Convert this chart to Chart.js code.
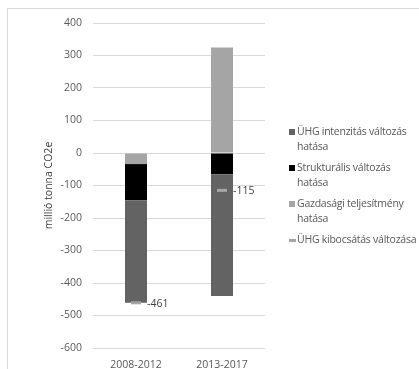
<!DOCTYPE html>
<html>
<head>
<meta charset="utf-8">
<script src="https://cdn.jsdelivr.net/npm/chart.js@4/dist/chart.umd.min.js"></script>
<style>
  html, body { margin: 0; padding: 0; background: #fff; }
  #wrap { position: relative; width: 419px; height: 369px; overflow: hidden; }
  #c { position: absolute; left: 0; top: 0; }
  #legend { position: absolute; left: 289px; top: 124px; font-family: "Open Sans", sans-serif; font-size: 10.5px; letter-spacing: -0.25px; color: #595959; line-height: 14.5px; white-space: nowrap; }
  .item { position: relative; padding-left: 8px; margin-bottom: 7px; }
  .mk { position: absolute; left: 0; top: 5px; width: 6px; height: 6px; }
  .mk.line { top: 7px; height: 2.5px; width: 7px; }
</style>
</head>
<body>
<div id="wrap">
  <canvas id="c" width="419" height="369"></canvas>
  <div id="legend"></div>
</div>
<script>
// Periods on the x axis
const categories = ['2008-2012', '2013-2017'];

// Decomposition of the change in GHG emissions (million tonnes CO2e)
const economicEffect   = [-34, 325];    // Gazdasági teljesítmény hatása
const structuralEffect = [-111, -65];   // Strukturális változás hatása
const intensityEffect  = [-316, -375];  // ÜHG intenzitás változás hatása
const totalChange      = [-461, -115];  // ÜHG kibocsátás változása

// Y axis range
const yMin = -600, yMax = 400, yStep = 100;

const labelFont = { family: '"Open Sans", sans-serif', size: 10.5 };
const textColor = '#595959';
const axisTitle = 'millió tonna CO2e';

// Frame around the figure, axis title and value labels next to the total markers
const decor = {
  id: 'decor',
  beforeDraw(chart) {
    const ctx = chart.ctx;
    ctx.save();
    ctx.strokeStyle = '#d9d9d9';
    ctx.lineWidth = 1;
    ctx.strokeRect(7.5, 8.5, 600, 600);
    ctx.restore();
  },
  afterDraw(chart) {
    const ctx = chart.ctx;
    const y = chart.scales.y;
    ctx.save();
    ctx.font = '10.5px "Open Sans", sans-serif';
    const w = ctx.measureText(axisTitle).width;
    const fit = Math.min(1, 98 / w);   // keep the title as compact as the narrow axis font
    ctx.translate(49, (y.top + y.bottom) / 2);
    ctx.rotate(-Math.PI / 2);
    ctx.scale(fit, 1);
    ctx.fillStyle = '#404040';
    ctx.textAlign = 'center';
    ctx.textBaseline = 'middle';
    ctx.fillText(axisTitle, 0, 0);
    ctx.restore();
  },
  afterDatasetsDraw(chart) {
    const ctx = chart.ctx;
    const meta = chart.getDatasetMeta(0);
    ctx.save();
    ctx.font = '10.5px "Open Sans", sans-serif';
    ctx.fillStyle = '#404040';
    ctx.textAlign = 'left';
    ctx.textBaseline = 'middle';
    meta.data.forEach((pt, i) => {
      ctx.fillText(String(totalChange[i]), pt.x + 11, pt.y + 1);
    });
    ctx.restore();
  }
};

const datasets = [
  {
    type: 'line',
    label: 'ÜHG kibocsátás változása',
    data: totalChange,
    stack: 'total',
    showLine: false,
    pointStyle: 'line',
    pointRadius: 5,
    pointHoverRadius: 5,
    borderWidth: 3,
    borderColor: '#a5a5a5',
    backgroundColor: '#a5a5a5'
  },
  { label: 'Gazdasági teljesítmény hatása', data: economicEffect, backgroundColor: '#a5a5a5', stack: 'bars' },
  { label: 'Strukturális változás hatása', data: structuralEffect, backgroundColor: '#000000', stack: 'bars' },
  { label: 'ÜHG intenzitás változás hatása', data: intensityEffect, backgroundColor: '#636363', stack: 'bars' }
];

new Chart(document.getElementById('c'), {
  type: 'bar',
  data: { labels: categories, datasets },
  options: {
    responsive: false,
    animation: false,
    events: [],
    layout: { padding: { top: 23, right: 154, bottom: 0, left: 0 } },
    datasets: { bar: { barPercentage: 0.256, categoryPercentage: 1 } },
    plugins: { legend: { display: false }, tooltip: { enabled: false } },
    scales: {
      x: {
        stacked: true,
        grid: { display: false },
        border: { display: false },
        ticks: { color: textColor, font: labelFont, padding: 3 },
        afterFit(s) { s.height = 21; }
      },
      y: {
        stacked: true,
        min: yMin, max: yMax,
        ticks: { stepSize: yStep, color: textColor, font: labelFont, padding: 11 },
        grid: { color: '#d9d9d9', drawTicks: false },
        border: { display: false },
        afterFit(s) { s.width = 93; }
      }
    }
  },
  plugins: [decor]
});

// Legend, in the order shown beside the plot
const legendOrder = [
  { text: ['ÜHG intenzitás változás', 'hatása'], color: '#636363', line: false },
  { text: ['Strukturális változás', 'hatása'], color: '#000000', line: false },
  { text: ['Gazdasági teljesítmény', 'hatása'], color: '#a5a5a5', line: false },
  { text: ['ÜHG kibocsátás változása'], color: '#a5a5a5', line: true }
];
const lg = document.getElementById('legend');
legendOrder.forEach(it => {
  const d = document.createElement('div');
  d.className = 'item';
  const m = document.createElement('span');
  m.className = 'mk' + (it.line ? ' line' : '');
  m.style.background = it.color;
  d.appendChild(m);
  it.text.forEach((t, i) => {
    if (i) d.appendChild(document.createElement('br'));
    d.appendChild(document.createTextNode(t));
  });
  lg.appendChild(d);
});
</script>
</body>
</html>
